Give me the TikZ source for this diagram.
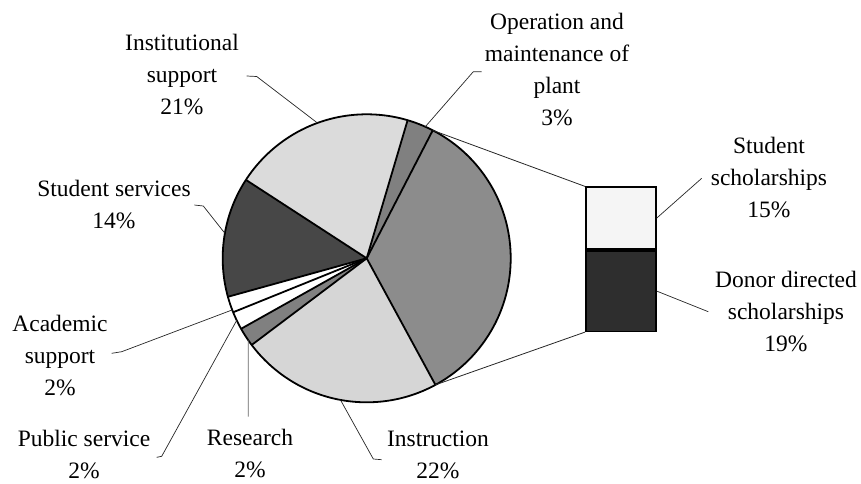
\documentclass[tikz,border=0pt]{standalone}
\usepackage{fontspec}
\setmainfont{Liberation Serif}
\definecolor{instc}{gray}{0.86}
\definecolor{opsc}{gray}{0.5}
\definecolor{schc}{gray}{0.55}
\definecolor{ssc}{gray}{0.28}
\definecolor{resc}{gray}{0.5}
\definecolor{insc}{gray}{0.84}
\definecolor{darkbar}{gray}{0.18}
\definecolor{lightbar}{gray}{0.96}
\newcommand\pieslice[3]{\fill[#3] (C) -- ++(#1:\R) arc[start angle=#1, end angle=#2, radius=\R] -- cycle;}
\begin{document}
\begin{tikzpicture}[x=1pt,y=1pt,
  edge/.style={draw=black, line width=1.8pt, line join=round},
  leader/.style={draw=black!85, line width=0.7pt},
  link/.style={draw=black!85, line width=0.8pt},
  lbl/.style={font={\fontsize{23.5}{32}\selectfont}, align=center, inner sep=0pt},
  barbox/.style={draw=black, line width=1.6pt, minimum width=70pt, inner sep=0pt}]
\useasboundingbox (0,0) rectangle (861,483);
\coordinate (C) at (366.7,224.7);
\def\R{144}
% slices
\pieslice{-61.5}{62.7}{schc}
\pieslice{62.7}{73.5}{opsc}
\pieslice{73.5}{147}{instc}
\pieslice{147}{195.5}{ssc}
\pieslice{195.5}{202}{white}
\pieslice{202}{209.3}{white}
\pieslice{209.3}{217}{resc}
\pieslice{217}{298.5}{insc}
% boundaries
\foreach \a in {-61.5,62.7,73.5,147,195.5,202,209.3,217}
  \draw[edge] (C) -- ++(\a:\R);
\draw[edge] (C) circle[radius=\R];
% points on pie
\path (C) ++(62.7:\R) coordinate (pTop);
\path (C) ++(-61.5:\R) coordinate (pBot);
\path (C) ++(110:\R) coordinate (eInst);
\path (C) ++(66:\R) coordinate (eOps);
\path (C) ++(170:\R) coordinate (eSS);
\path (C) ++(201:\R) coordinate (eAc);
\path (C) ++(205.5:\R) coordinate (ePub);
\path (C) ++(214.7:\R) coordinate (eRes);
\path (C) ++(259.5:\R) coordinate (eIns);
% bar
\node[barbox, fill=lightbar, minimum height=62pt, anchor=south west] (ssbox) at (585,233) {};
\node[barbox, fill=darkbar, minimum height=80.5pt, anchor=north west] (ddbox) at (585,233) {};
\draw[link] (pTop) -- (ssbox.north west);
\draw[link] (pBot) -- (ddbox.south west);
% labels
\node[lbl] (inst) at (182,408) {Institutional\\support\\21\%};
\node[lbl] (ops) at (557,413) {Operation and\\maintenance of\\plant\\3\%};
\node[lbl] (ss) at (114,278.5) {Student services\\14\%};
\node[lbl] (ac) at (60,128) {Academic\\support\\2\%};
\node[lbl] (pub) at (84,28.5) {Public service\\2\%};
\node[lbl] (res) at (250,30) {Research\\2\%};
\node[lbl] (ins) at (438,28) {Instruction\\22\%};
\node[lbl] (stsch) at (769,305) {Student\\scholarships\\15\%};
\node[lbl] (dd) at (786,172) {Donor directed\\scholarships\\19\%};
% leader coordinates
\coordinate (sInst) at (246.7,407);
\coordinate (kInst) at (256.7,406.5);
\coordinate (sOps) at (481.7,411.3);
\coordinate (kOps) at (473.3,411.3);
\coordinate (sSS) at (194.3,278);
\coordinate (kSS) at (203.3,277);
\coordinate (sAc) at (111.7,129.7);
\coordinate (kAc) at (121.7,131.3);
\coordinate (sPub) at (156.7,25.7);
\coordinate (kPub) at (161.7,26.7);
\coordinate (sRes) at (248.3,66.3);
\coordinate (sIns) at (381.7,23.3);
\coordinate (kIns) at (373.3,24);
\coordinate (sSt) at (701.7,304.7);
\coordinate (sDd) at (708.3,171.3);
% leaders
\draw[leader] (sInst) -- (kInst) -- (eInst);
\draw[leader] (sOps) -- (kOps) -- (eOps);
\draw[leader] (sSS) -- (kSS) -- (eSS);
\draw[leader] (sAc) -- (kAc) -- (eAc);
\draw[leader] (sPub) -- (kPub) -- (ePub);
\draw[leader, draw=black!60] (sRes) -- (eRes);
\draw[leader] (sIns) -- (kIns) -- (eIns);
\draw[leader] (ssbox.east) -- (sSt);
\draw[leader] (ddbox.east) -- (sDd);
\end{tikzpicture}
\end{document}
